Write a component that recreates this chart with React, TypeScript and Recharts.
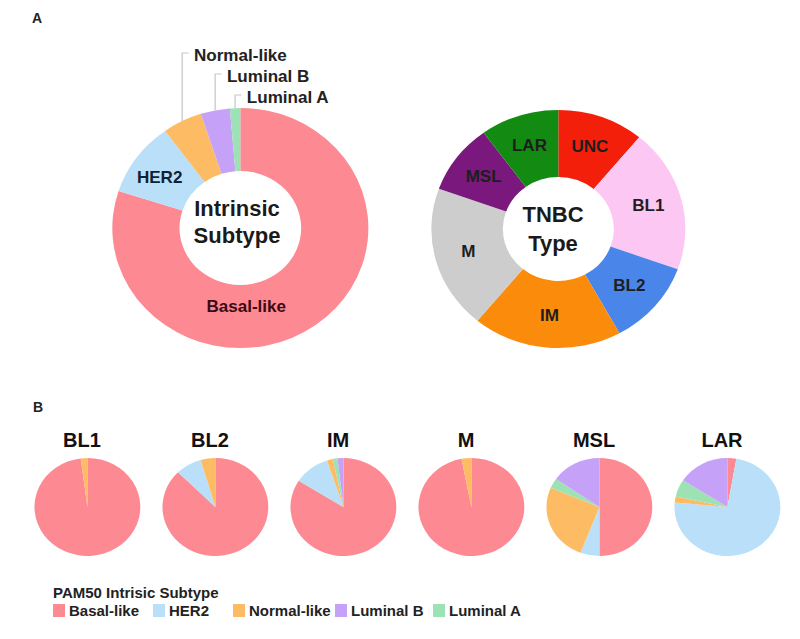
import { PieChart, Pie, Cell } from "recharts";

const FONT = "'Liberation Sans', Arial, Helvetica, sans-serif";
const RAD = Math.PI / 180;

// Panel A, left: PAM50 intrinsic subtype share (%)
const subtypeNames = ["Basal-like", "HER2", "Normal-like", "Luminal B", "Luminal A"];
const subtypeShare = [80, 10, 5, 3.7, 1.3];
const subtypeColors = ["#fd8a93", "#b9e0f8", "#fdbc64", "#c5a1f7", "#9de2b5"];

// Panel A, right: TNBC type share (%)
const tnbcNames = ["UNC", "BL1", "BL2", "IM", "M", "MSL", "LAR"];
const tnbcShare = [11, 19.5, 11.5, 19, 19.5, 9.5, 10];
const tnbcColors = ["#f41f0b", "#fdc7f3", "#4a86ea", "#fb8b0a", "#cdcdcd", "#7a187d", "#138b13"];

// Panel B: PAM50 composition within each TNBC type (%)
const groupNames = ["BL1", "BL2", "IM", "M", "MSL", "LAR"];
const pamNames = ["Basal-like", "HER2", "Normal-like", "Luminal A", "Luminal B"];
const pamColors = ["#fd8a93", "#b9e0f8", "#fdbc64", "#9de2b5", "#c5a1f7"];
const bl1Share = [98, 0, 2, 0, 0];
const bl2Share = [87.5, 8, 4.5, 0, 0];
const imShare = [84, 11, 1.8, 1.4, 1.8];
const mShare = [97, 0, 3, 0, 0];
const mslShare = [50, 5.8, 25.6, 3.3, 15.3];
const larShare = [2.7, 73.6, 2, 5.7, 15.8];
const groupShares = [bl1Share, bl2Share, imShare, mShare, mslShare, larShare];

const legendNames = ["Basal-like", "HER2", "Normal-like", "Luminal B", "Luminal A"];
const legendColors = ["#fd8a93", "#b9e0f8", "#fdbc64", "#c5a1f7", "#9de2b5"];

const subtypeData = subtypeNames.map((name, i) => ({ name, value: subtypeShare[i] }));
const tnbcData = tnbcNames.map((name, i) => ({ name, value: tnbcShare[i] }));

// the source figure is a bit wider than tall
const STRETCH = 1.067;
const legendItemWidths = [100, 80, 102, 98, 90];

function subtypeLabel(p: any) {
  const { cx, cy, midAngle, innerRadius, outerRadius, index } = p;
  const name = subtypeNames[index];
  const common = { fontFamily: FONT, fontSize: 16, fontWeight: "bold", dominantBaseline: "central" } as any;
  if (index === 0) {
    // big slice: label sits in the lower part of the ring
    const a = (90 - 176) * RAD;
    const r = 79;
    return <text x={cx + r * Math.cos(a)} y={cy - r * Math.sin(a)} textAnchor="middle" fill="#3d0b14" {...common}>{name}</text>;
  }
  const cos = Math.cos(-midAngle * RAD);
  const sin = Math.sin(-midAngle * RAD);
  if (index === 1) {
    const r = (innerRadius + outerRadius) / 2;
    return <text x={cx + r * cos - 4} y={cy + r * sin + 2} textAnchor="middle" fill="#0e2233" {...common}>{name}</text>;
  }
  const sx = cx + outerRadius * cos;
  const sy = cy + outerRadius * sin;
  const ly = cy - outerRadius - 10 - (subtypeNames.length - 1 - index) * 21;
  return (
    <g>
      <path d={`M${sx},${sy}V${ly - 3}H${sx + 6}`} stroke="#c8c8c8" strokeWidth={1.2} fill="none" />
      <text x={sx + 11} y={ly} textAnchor="start" fill="#222" {...common}>{name}</text>
    </g>
  );
}

function tnbcLabel(p: any) {
  const { cx, cy, midAngle, innerRadius, outerRadius, index } = p;
  const r = (innerRadius + outerRadius) / 2 + 2;
  const x = cx + r * Math.cos(-midAngle * RAD);
  const y = cy + r * Math.sin(-midAngle * RAD);
  return (
    <text x={x} y={y} textAnchor="middle" dominantBaseline="central" fontFamily={FONT}
      fontSize={16} fontWeight="bold" fill="#1e1e1e">
      {tnbcNames[index]}
    </text>
  );
}

function CenterText({ x, y, lines, lh }: any) {
  return (
    <div style={{ position: "absolute", left: x - 70, top: y, width: 140, textAlign: "center", fontSize: 22, lineHeight: `${lh}px`, fontWeight: "bold", color: "#1a1a1a" }}>
      {lines.map((l: string) => <div key={l}>{l}</div>)}
    </div>
  );
}

export default function App() {
  return (
    <div style={{ position: "absolute", left: 0, top: 0, width: 800, height: 639, background: "#fff", fontFamily: FONT, color: "#222", overflow: "hidden" }}>
      <div style={{ position: "absolute", left: 32, top: 11, fontSize: 14, lineHeight: "14px", fontWeight: "bold" }}>A</div>
      <div style={{ position: "absolute", left: 33, top: 400, fontSize: 14, lineHeight: "14px", fontWeight: "bold" }}>B</div>

      <div style={{ position: "absolute", left: 0, top: 0, transform: `scaleX(${STRETCH})`, transformOrigin: "235px 0" }}>
        <PieChart width={400} height={370}>
          <Pie data={subtypeData} dataKey="value" nameKey="name" cx={235} cy={223}
            innerRadius={57} outerRadius={120} startAngle={90} endAngle={-270}
            stroke="none" label={subtypeLabel} labelLine={false} isAnimationActive={false}>
            {subtypeData.map((d, i) => <Cell key={d.name} fill={subtypeColors[i]} />)}
          </Pie>
        </PieChart>
      </div>
      <CenterText x={237} y={195} lh={27} lines={["Intrinsic", "Subtype"]} />

      <div style={{ position: "absolute", left: 400, top: 0, transform: `scaleX(${STRETCH})`, transformOrigin: "153px 0" }}>
        <PieChart width={400} height={370}>
          <Pie data={tnbcData} dataKey="value" nameKey="name" cx={153} cy={224}
            innerRadius={52} outerRadius={119} startAngle={90} endAngle={-270}
            stroke="none" label={tnbcLabel} labelLine={false} isAnimationActive={false}>
            {tnbcData.map((d, i) => <Cell key={d.name} fill={tnbcColors[i]} />)}
          </Pie>
        </PieChart>
      </div>
      <CenterText x={553} y={200} lh={29} lines={["TNBC", "Type"]} />

      {groupNames.map((g, gi) => {
        const cx = 82 + gi * 128;
        const data = pamNames.map((name, i) => ({ name, value: groupShares[gi][i] }));
        return (
          <div key={g}>
            <div style={{ position: "absolute", left: cx - 50, top: 430, width: 100, textAlign: "center", fontSize: 20, lineHeight: "20px", fontWeight: "bold", color: "#111" }}>{g}</div>
            <div style={{ position: "absolute", left: cx - 64, top: 449, transform: "scaleX(1.08)", transformOrigin: "64px 0" }}>
              <PieChart width={128} height={110}>
                <Pie data={data} dataKey="value" nameKey="name" cx={64} cy={53}
                  outerRadius={49} startAngle={90} endAngle={-270} stroke="none" isAnimationActive={false}>
                  {data.map((d, i) => <Cell key={d.name} fill={pamColors[i]} />)}
                </Pie>
              </PieChart>
            </div>
          </div>
        );
      })}

      <div style={{ position: "absolute", left: 53, top: 585, fontSize: 15, lineHeight: "15px", fontWeight: "bold" }}>PAM50 Intrisic Subtype</div>
      <div style={{ position: "absolute", left: 53, top: 603, display: "flex", fontSize: 15, lineHeight: "15px", fontWeight: "bold" }}>
        {legendNames.map((n, i) => (
          <div key={n} style={{ display: "flex", alignItems: "center", width: legendItemWidths[i], whiteSpace: "nowrap" }}>
            <span style={{ display: "inline-block", width: 12, height: 13, background: legendColors[i], marginRight: 4 }} />
            <span>{n}</span>
          </div>
        ))}
      </div>
    </div>
  );
}
